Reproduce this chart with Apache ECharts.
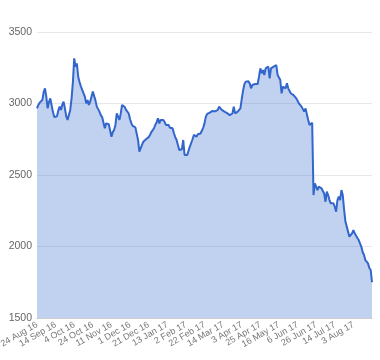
<!DOCTYPE html>
<html>
<head>
<meta charset="utf-8">
<script src="https://cdn.jsdelivr.net/npm/echarts@6/dist/echarts.min.js"></script>
<style>html,body{margin:0;padding:0;background:#fff}#c{width:380px;height:360px}</style>
</head>
<body>
<div id="c"></div>
<script>
// Trading days (month, 2-digit year, days)
const tradingDays = [
  ["Aug", 16, [24,25,26,30,31]],
  ["Sep", 16, [1,2,5,6,7,8,9,12,13,14,15,16,19,20,21,22,23,26,27,28,29,30]],
  ["Oct", 16, [3,4,5,6,7,10,11,12,13,14,17,18,19,20,21,24,25,26,27,28,31]],
  ["Nov", 16, [1,2,3,4,7,8,9,10,11,14,15,16,17,18,21,22,23,24,25,28,29,30]],
  ["Dec", 16, [1,2,5,6,7,8,9,12,13,14,15,16,19,20,21,22,23,28,29,30]],
  ["Jan", 17, [3,4,5,6,9,10,11,12,13,16,17,18,19,20,23,24,25,26,27,30,31]],
  ["Feb", 17, [1,2,3,6,7,8,9,10,13,14,15,16,17,20,21,22,23,24,27,28]],
  ["Mar", 17, [1,2,3,6,7,8,9,10,13,14,15,16,17,20,21,22,23,24,27,28,29,30,31]],
  ["Apr", 17, [3,4,5,6,7,10,11,12,13,18,19,20,21,24,25,26,27,28]],
  ["May", 17, [2,3,4,5,8,9,10,11,12,15,16,17,18,19,22,23,24,25,26,30,31]],
  ["Jun", 17, [1,2,5,6,7,8,9,12,13,14,15,16,19,20,21,22,23,26,27,28,29,30]],
  ["Jul", 17, [3,4,5,6,7,10,11,12,13,14,17,18,19,20,21,24,25,26,27,28,31]],
  ["Aug", 17, [1,2,3,4,7,8,9,10,11,14,15,16,17,18,21,22,23]]
];

const prices = [
  2966,2990,3006,2996,3024,3080,3106,3048,2966,3010,
  3036,3024,2940,2905,2896,2910,2950,2978,2955,2990,
  3013,2966,2910,2885,2878,2955,3036,3150,3316,3258,
  3281,3187,3150,3120,3095,3083,3048,3001,3024,2990,
  3013,3010,3083,3090,3020,2978,2966,2943,2919,2905,
  2896,2827,2861,2857,2855,2857,2768,2800,2815,2850,
  2931,2943,2885,2931,2990,3001,2975,2955,2966,2930,
  2890,2861,2843,2838,2833,2827,2745,2663,2675,2710,
  2733,2745,2750,2757,2765,2780,2800,2803,2827,2850,
  2870,2896,2861,2885,2890,2885,2870,2850,2861,2850,
  2830,2819,2827,2792,2765,2745,2733,2675,2687,2680,
  2745,2640,2645,2640,2670,2698,2705,2750,2780,2770,
  2768,2785,2773,2790,2803,2830,2861,2908,2927,2931,
  2936,2936,2948,2943,2945,2950,2955,2978,2966,2955,
  2945,2943,2936,2933,2931,2919,2908,2930,2978,2931,
  2940,2943,2936,2966,3030,3090,3135,3153,3160,3155,
  3141,3106,3129,3122,3136,3135,3136,3187,3246,3211,
  3234,3199,3246,3234,3258,3176,3246,3234,3258,3245,
  3269,3199,3187,3164,3071,3118,3106,3106,3141,3106,
  3118,3070,3059,3059,3060,3036,3020,3001,3013,2978,
  2990,2943,2966,2978,2885,2850,2850,2866,2360,2442,
  2430,2395,2418,2430,2407,2418,2371,2313,2383,2360,
  2325,2302,2300,2302,2278,2243,2325,2348,2325,2395,
  2360,2260,2174,2139,2104,2069,2080,2092,2115,2092,
  2087,2060,2045,2034,1998,1960,1941,1905,1917,1882,
  1850,1836,1750
];

const yTicks = [1500, 2000, 2500, 3000, 3500];
const labelStep = 14;
const lastLabelIndex = 238;

const categories = [];
tradingDays.forEach(([m, y, days]) => days.forEach(d => categories.push(d + " " + m + " " + y)));

const chart = echarts.init(document.getElementById('c'), null, {renderer: 'canvas'});
chart.setOption({
  animation: false,
  textStyle: {fontFamily: 'Arial, "Liberation Sans", sans-serif'},
  grid: {left: 37, right: 8, top: 32, bottom: 42, containLabel: false, outerBoundsMode: 'none'},
  xAxis: {
    type: 'category',
    data: categories,
    boundaryGap: false,
    axisLine: {show: true, lineStyle: {color: '#cccccc', width: 1}},
    axisTick: {show: false},
    splitLine: {show: false},
    axisLabel: {
      interval: 0,
      formatter: (v, i) => (i % labelStep === 0 && i <= lastLabelIndex) ? v : '',
      hideOverlap: false,
      rotate: 30,
      margin: 6,
      fontSize: 9,
      color: '#777',
      fontFamily: 'Arial, "Liberation Sans", sans-serif'
    }
  },
  yAxis: {
    type: 'value',
    min: yTicks[0],
    max: yTicks[yTicks.length - 1],
    interval: 500,
    axisLine: {show: false},
    axisTick: {show: false},
    splitLine: {lineStyle: {color: '#e8e8e8', width: 1}},
    axisLabel: {
      formatter: (v) => String(v),
      fontSize: 10.5,
      color: '#666',
      margin: 5,
      fontFamily: 'Arial, "Liberation Sans", sans-serif'
    }
  },
  series: [{
    type: 'line',
    data: prices,
    showSymbol: false,
    symbol: 'none',
    lineStyle: {color: '#3366cc', width: 2},
    areaStyle: {color: '#3366cc', opacity: 0.3},
    z: 2
  }]
});
</script>
</body>
</html>
